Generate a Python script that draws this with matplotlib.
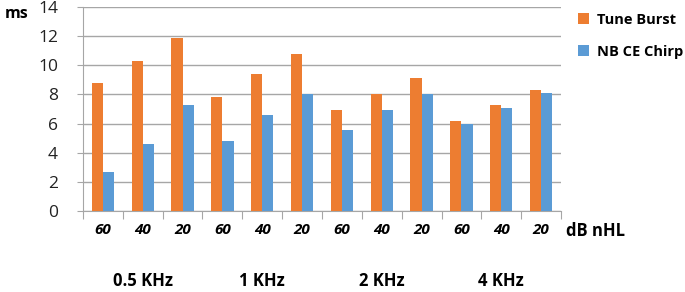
import matplotlib
matplotlib.use("Agg")
import matplotlib.pyplot as plt
import numpy as np

plt.rcParams['font.family'] = ['Open Sans', 'DejaVu Sans']

levels = ["60", "40", "20", "60", "40", "20", "60", "40", "20", "60", "40", "20"]
groups = ["0.5 KHz", "1 KHz", "2 KHz", "4 KHz"]
tune_burst = [8.8, 10.3, 11.85, 7.8, 9.4, 10.8, 6.9, 8.0, 9.1, 6.2, 7.25, 8.27]
nb_ce_chirp = [2.7, 4.6, 7.25, 4.8, 6.57, 8.0, 5.57, 6.9, 8.0, 6.0, 7.04, 8.1]

fig = plt.figure(figsize=(6.85, 2.92), dpi=100)
ax = fig.add_axes([83/685, 1-211/292, (561-83)/685, (211-7)/292])

x = np.arange(len(levels))
w = 0.28
ax.bar(x - w/2, tune_burst, w, color='#ED7D31', label='Tune Burst', zorder=3)
ax.bar(x + w/2, nb_ce_chirp, w, color='#5B9BD5', label='NB CE Chirp', zorder=3)

ax.set_xlim(-0.5, len(levels) - 0.5)
ax.set_ylim(0, 14)
ax.set_yticks(np.arange(0, 15, 2))
ax.yaxis.grid(True, color='#A6A6A6', linewidth=1)
ax.set_axisbelow(True)
for s in ['top', 'right']:
    ax.spines[s].set_visible(False)
ax.spines['left'].set_color('#A6A6A6')
ax.spines['bottom'].set_color('#A6A6A6')
ax.tick_params(axis='y', length=4, color='#A6A6A6', pad=14, labelsize=12.5, labelcolor='#222222')

ax.set_xticks(np.arange(-0.5, len(levels), 1.0))
ax.set_xticklabels([])
ax.tick_params(axis='x', which='major', length=6, color='#A6A6A6', direction='out')
ax.set_xticks(x, minor=True)
ax.set_xticklabels(levels, minor=True, fontsize=11, fontweight='bold', fontstyle='italic')
ax.tick_params(axis='x', which='minor', length=0, pad=9)

fig.text(5/685, 1-14/292, 'ms', fontsize=11.5, fontweight='bold', va='center', ha='left')
fig.text(566/685, 1-231/292, 'dB nHL', fontsize=12, fontweight='bold', va='center', ha='left')

for i, g in enumerate(groups):
    cx = 3 * i + 1
    xf = fig.transFigure.inverted().transform(ax.transData.transform((cx, 0)))[0]
    fig.text(xf, 1-281/292, g, fontsize=12, fontweight='bold', ha='center', va='center')

leg = ax.legend(loc='upper left', bbox_to_anchor=(566/685, 1-1/292), bbox_transform=fig.transFigure,
                frameon=False, prop={'weight': 'bold', 'size': 10.5}, labelspacing=1.25,
                handlelength=0.75, handleheight=0.75, handletextpad=0.55, borderpad=0.3)

fig.savefig('out.png', dpi=100)
